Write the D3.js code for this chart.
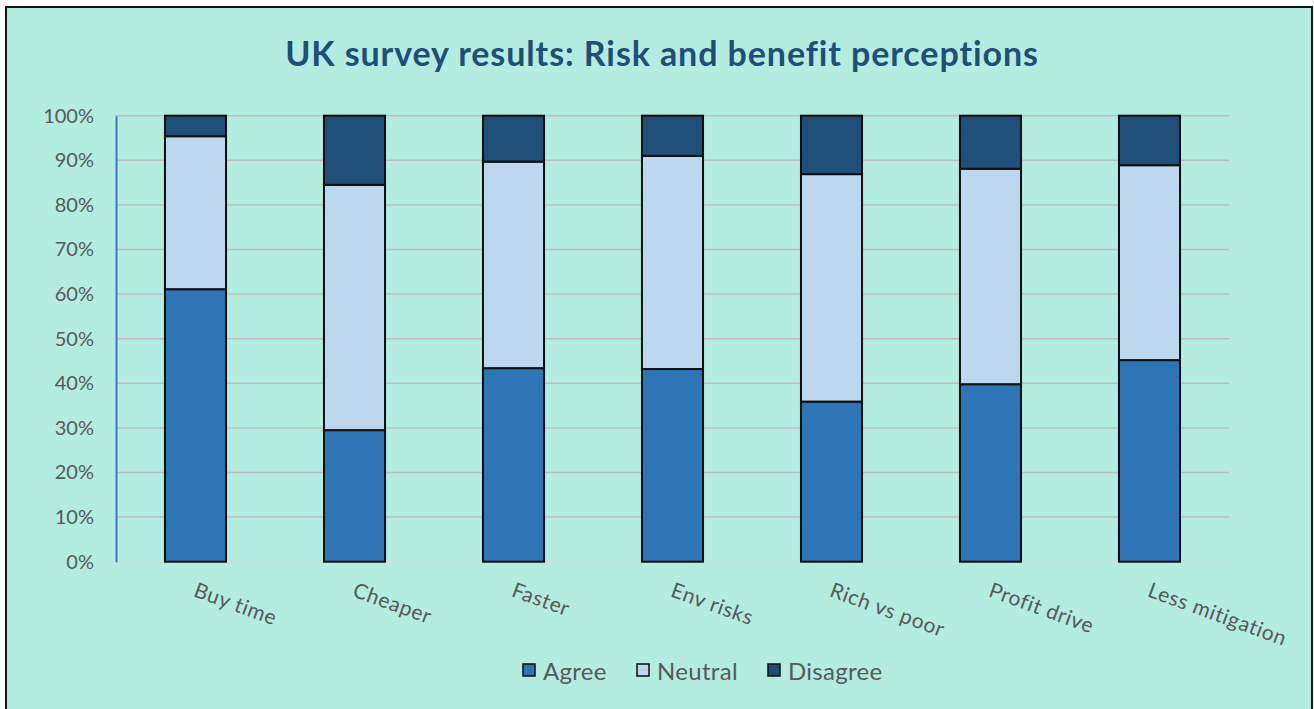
<!DOCTYPE html>
<html>
<head>
<meta charset="utf-8">
<script src="https://cdn.jsdelivr.net/npm/d3@7"></script>
<style>
  body { margin: 0; background: #fff; }
  svg { display: block; font-family: "Lato", "Open Sans", sans-serif; }
</style>
</head>
<body>
<svg id="chart" width="1314" height="709"></svg>
<script>
// data (percent of respondents)
var categories = ["Buy time", "Cheaper", "Faster", "Env risks", "Rich vs poor", "Profit drive", "Less mitigation"];
var agree    = [61.1, 29.5, 43.4, 43.2, 35.9, 39.8, 45.2];
var neutral  = [34.3, 55.0, 46.3, 47.8, 51.0, 48.3, 43.7];
var disagree = [4.6, 15.5, 10.3, 9.0, 13.1, 11.9, 11.1];
var seriesNames = ["Agree", "Neutral", "Disagree"];
var seriesColors = ["#2e75b6", "#bdd7ee", "#1f4e79"];
var yTicks = [0, 10, 20, 30, 40, 50, 60, 70, 80, 90, 100];

var svg = d3.select("#chart"),
    width = +svg.attr("width"),
    height = +svg.attr("height");

// chart frame
svg.append("rect")
    .attr("x", 6).attr("y", 7)
    .attr("width", 1306).attr("height", 720)
    .attr("fill", "#b3ede0")
    .attr("stroke", "#111").attr("stroke-width", 2);

svg.append("text")
    .attr("x", 662).attr("y", 66)
    .attr("text-anchor", "middle")
    .attr("font-size", 34).attr("font-weight", "bold")
    .attr("letter-spacing", 0.9)
    .attr("fill", "#1f4e79")
    .text("UK survey results: Risk and benefit perceptions");

var margin = {left: 116, right: 1229, top: 115.7, bottom: 561.7};

var x = d3.scaleBand()
    .domain(categories)
    .range([margin.left, margin.right])
    .paddingInner(0.616)
    .paddingOuter(0.308);

var y = d3.scaleLinear()
    .domain([0, 100])
    .range([margin.bottom, margin.top]);

// gridlines
svg.append("g")
  .selectAll("line")
  .data(yTicks.slice(1))
  .enter().append("line")
    .attr("x1", margin.left).attr("x2", margin.right)
    .attr("y1", function(d) { return y(d); })
    .attr("y2", function(d) { return y(d); })
    .attr("stroke", "#c0bcbd").attr("stroke-width", 1.5);

// baseline
svg.append("line")
    .attr("x1", margin.left).attr("x2", margin.right)
    .attr("y1", y(0)).attr("y2", y(0))
    .attr("stroke", "#d9d9d9").attr("stroke-width", 1.5);

// y axis
var yAxis = svg.append("g")
    .attr("transform", "translate(" + margin.left + ",0)")
    .call(d3.axisLeft(y).tickValues(yTicks).tickSize(0).tickPadding(22)
      .tickFormat(function(d) { return d + "%"; }));
yAxis.select(".domain").attr("stroke", "#4472c4").attr("stroke-width", 2);
yAxis.selectAll("text")
    .attr("font-size", 20).attr("fill", "#595959")
    .attr("font-family", "Lato, sans-serif");

// stacked bars
var rows = categories.map(function(c, i) {
  return {cat: c, Agree: agree[i], Neutral: neutral[i], Disagree: disagree[i]};
});
var stack = d3.stack().keys(seriesNames)(rows);

svg.append("g")
  .selectAll("g")
  .data(stack)
  .enter().append("g")
    .attr("fill", function(d, i) { return seriesColors[i]; })
  .selectAll("rect")
  .data(function(d) { return d; })
  .enter().append("rect")
    .attr("x", function(d) { return x(d.data.cat); })
    .attr("width", x.bandwidth())
    .attr("y", function(d) { return y(d[1]); })
    .attr("height", function(d) { return y(d[0]) - y(d[1]); })
    .attr("stroke", "#0d0d0d").attr("stroke-width", 2);

// rotated category labels
svg.append("g")
  .selectAll("text")
  .data(categories)
  .enter().append("text")
    .attr("transform", function(d) {
      return "translate(" + (x(d) + x.bandwidth() / 2 - 3) + "," + 596 + ") rotate(20)";
    })
    .attr("font-size", 21).attr("letter-spacing", 0.6).attr("fill", "#595959")
    .text(function(d) { return d; });

// legend
var legendX = [523, 637, 768];
var legend = svg.append("g")
  .selectAll("g")
  .data(seriesNames)
  .enter().append("g")
    .attr("transform", function(d, i) { return "translate(" + legendX[i] + ",664)"; });
legend.append("rect")
    .attr("width", 12).attr("height", 12)
    .attr("fill", function(d, i) { return seriesColors[i]; })
    .attr("stroke", "#0d0d0d").attr("stroke-width", 1.5);
legend.append("text")
    .attr("x", 20).attr("y", 16)
    .attr("font-size", 24).attr("letter-spacing", 0.3).attr("fill", "#595959")
    .text(function(d) { return d; });
</script>
</body>
</html>
